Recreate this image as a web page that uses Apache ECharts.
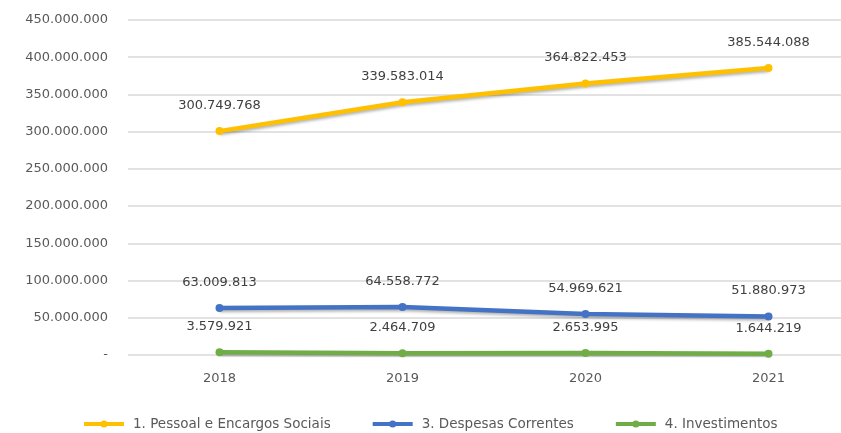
<!DOCTYPE html>
<html>
<head>
<meta charset="utf-8">
<script src="https://cdn.jsdelivr.net/npm/echarts@6/dist/echarts.min.js"></script>
<style>
  html, body { margin: 0; padding: 0; background: #fff; }
  #main { width: 841px; height: 433px; }
</style>
</head>
<body>
<div id="main"></div>
<script>
// dados
var anos = ['2018', '2019', '2020', '2021'];
var pessoal = [300749768, 339583014, 364822453, 385544088];
var despesas = [63009813, 64558772, 54969621, 51880973];
var investimentos = [3579921, 2464709, 2653995, 1644219];
var nomes = ['1. Pessoal e Encargos Sociais', '3. Despesas Correntes', '4. Investimentos'];
var cores = ['#FFC000', '#4472C4', '#70AD47'];

function fmt(v) {
	if (v === 0) return '-';
	return String(v).replace(/\B(?=(\d{3})+(?!\d))/g, '.');
}

function serie(nome, dados, cor) {
	return {
		name: nome,
		type: 'line',
		data: dados,
		symbol: 'circle',
		symbolSize: 8,
		color: cor,
		lineStyle: {
			width: 4.5,
			color: cor,
			shadowColor: 'rgba(0,0,0,0.3)',
			shadowBlur: 3,
			shadowOffsetY: 2
		},
		itemStyle: { color: cor },
		label: {
			show: true,
			position: 'top',
			distance: 15,
			fontFamily: 'DejaVu Sans',
			fontSize: 13,
			color: '#404040',
			formatter: function(p) { return fmt(p.value); }
		}
	};
}

var chart = echarts.init(document.getElementById('main'));
chart.setOption({
	animation: false,
	textStyle: { fontFamily: 'DejaVu Sans' },
	grid: { left: 128, width: 732, top: 20, bottom: 78, outerBoundsMode: 'none' },
	legend: {
		bottom: -3,
		left: 77,
		itemWidth: 40,
		itemHeight: 9,
		itemGap: 40,
		lineStyle: { width: 4, shadowBlur: 0 },
		textStyle: { fontSize: 13.5, color: '#595959', fontFamily: 'DejaVu Sans', padding: [0, 0, 0, 4] },
		data: nomes
	},
	xAxis: {
		type: 'category',
		data: anos,
		axisLine: { show: false },
		axisTick: { show: false },
		axisLabel: { color: '#595959', fontSize: 13, margin: 17 }
	},
	yAxis: {
		type: 'value',
		min: 0,
		max: 450000000,
		interval: 50000000,
		axisLine: { show: false },
		axisTick: { show: false },
		splitLine: { lineStyle: { color: '#d9d9d9', width: 1.5 } },
		axisLabel: {
			color: '#595959',
			fontSize: 13,
			margin: 20,
			formatter: fmt
		}
	},
	series: [
		serie(nomes[0], pessoal, cores[0]),
		serie(nomes[1], despesas, cores[1]),
		serie(nomes[2], investimentos, cores[2])
	]
});
</script>
</body>
</html>
